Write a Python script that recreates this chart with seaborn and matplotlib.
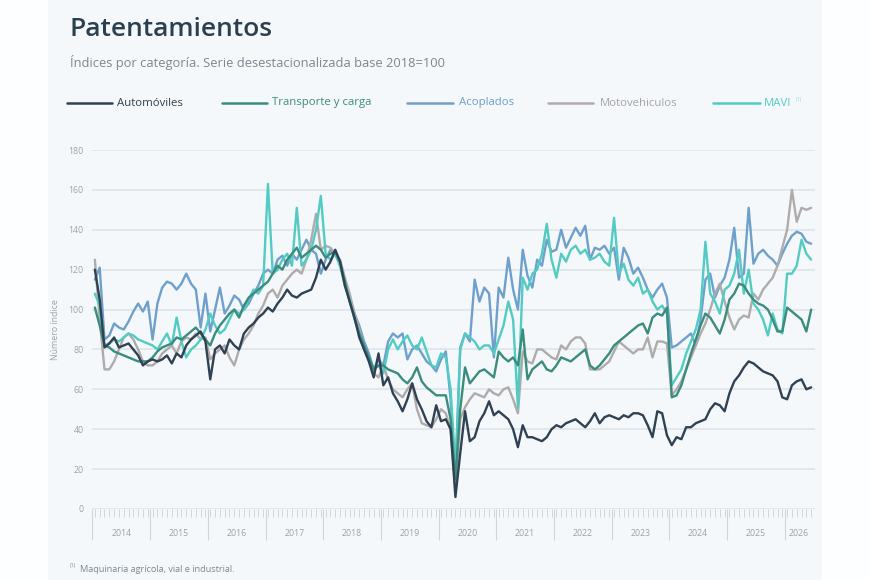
import numpy as np
import pandas as pd
import matplotlib
matplotlib.use("Agg")
import matplotlib.pyplot as plt
import seaborn as sns
from matplotlib.lines import Line2D
from matplotlib.patches import Rectangle

# ---------------- data (monthly index, 2014-01 .. 2026-06) ----------------
years = ["2014", "2015", "2016", "2017", "2018", "2019", "2020",
         "2021", "2022", "2023", "2024", "2025", "2026"]

automoviles = [
    120, 105, 81, 83, 86, 81, 82, 83, 80, 77, 72, 74,
    75, 74, 75, 77, 73, 78, 76, 82, 85, 87, 89, 84,
    65, 80, 82, 78, 85, 82, 80, 88, 91, 93, 96, 98,
    101, 99, 103, 106, 110, 107, 106, 108, 109, 110, 116, 125,
    120, 124, 130, 124, 112, 104, 96, 86, 80, 74, 66, 78,
    62, 66, 58, 54, 49, 55, 63, 55, 50, 44, 41, 52,
    44, 45, 40, 6, 28, 49, 34, 36, 44, 48, 54, 47,
    49, 47, 45, 40, 31, 42, 36, 36, 35, 34, 36, 40,
    42, 41, 43, 44, 45, 43, 41, 44, 48, 43, 46, 47,
    46, 45, 47, 46, 48, 48, 47, 42, 36, 49, 48, 37,
    32, 36, 35, 41, 41, 43, 44, 45, 50, 53, 52, 49,
    58, 64, 67, 71, 74, 73, 71, 69, 68, 67, 64, 56,
    55, 62, 64, 65, 60, 61,
]

transporte = [
    101, 92, 82, 81, 79, 78, 77, 76, 75, 74, 74, 74,
    76, 79, 81, 82, 83, 86, 85, 87, 89, 91, 88, 85,
    82, 88, 92, 95, 98, 100, 96, 102, 106, 108, 110, 112,
    114, 118, 122, 120, 125, 128, 131, 126, 128, 130, 132, 130,
    126, 128, 129, 124, 114, 104, 96, 88, 82, 76, 70, 72,
    72, 70, 69, 68, 65, 63, 66, 71, 64, 61, 59, 57,
    57, 57, 45, 15, 50, 71, 63, 66, 69, 70, 68, 66,
    79, 76, 74, 76, 72, 90, 65, 70, 72, 74, 70, 69,
    72, 76, 75, 74, 76, 78, 80, 72, 70, 72, 75, 78,
    82, 84, 86, 88, 90, 92, 93, 88, 96, 98, 97, 101,
    56, 57, 62, 70, 78, 85, 92, 98, 96, 92, 88, 95,
    105, 108, 113, 112, 108, 105, 103, 102, 100, 95, 89, 89,
    101, 99, 97, 95, 89, 100,
]

acoplados = [
    115, 121, 85, 87, 93, 91, 90, 94, 99, 103, 99, 104,
    85, 103, 111, 114, 113, 110, 113, 118, 113, 110, 91, 108,
    89, 100, 111, 98, 102, 107, 105, 100, 103, 108, 112, 118,
    120, 118, 125, 127, 122, 128, 125, 130, 135, 130, 128, 118,
    125, 130, 128, 122, 114, 106, 98, 92, 84, 78, 70, 75,
    72, 84, 88, 86, 88, 75, 80, 82, 78, 74, 72, 69,
    75, 79, 55, 15, 81, 88, 84, 115, 104, 111, 108, 76,
    111, 106, 126, 110, 100, 130, 117, 111, 125, 122, 135, 129,
    130, 140, 131, 136, 141, 137, 142, 125, 131, 130, 132, 128,
    131, 115, 131, 126, 118, 121, 116, 110, 106, 110, 113, 106,
    81, 82, 84, 86, 88, 82, 95, 115, 118, 106, 112, 116,
    125, 141, 116, 118, 151, 123, 128, 130, 127, 125, 122, 128,
    133, 137, 139, 138, 134, 133,
]

motovehiculos = [
    125, 95, 70, 70, 74, 80, 86, 88, 85, 80, 74, 72,
    72, 74, 78, 80, 82, 78, 84, 86, 85, 88, 85, 86,
    75, 78, 80, 82, 76, 72, 80, 85, 88, 92, 98, 102,
    108, 110, 106, 112, 115, 118, 120, 118, 125, 135, 148, 130,
    132, 131, 128, 125, 116, 108, 98, 90, 80, 74, 68, 66,
    72, 65, 60, 58, 56, 60, 63, 50, 43, 42, 41, 45,
    50, 48, 40, 10, 45, 51, 55, 58, 57, 56, 60, 58,
    57, 60, 61, 55, 48, 79, 74, 73, 80, 80, 78, 76,
    75, 82, 80, 84, 86, 86, 83, 70, 70, 70, 72, 74,
    79, 84, 82, 80, 78, 80, 80, 86, 76, 84, 84, 83,
    57, 60, 64, 70, 76, 82, 88, 93, 100, 108, 113, 104,
    96, 90, 95, 97, 96, 108, 105, 110, 113, 116, 122, 131,
    140, 160, 144, 151, 150, 151,
]

mavi = [
    108, 102, 82, 83, 85, 84, 86, 88, 87, 85, 84, 83,
    82, 80, 84, 88, 82, 96, 84, 76, 80, 82, 85, 90,
    98, 92, 88, 90, 95, 100, 98, 100, 105, 110, 108, 112,
    163, 118, 120, 125, 128, 122, 151, 122, 125, 130, 140, 157,
    128, 125, 128, 122, 112, 105, 95, 88, 80, 75, 70, 72,
    68, 80, 85, 80, 84, 87, 82, 80, 86, 79, 72, 71,
    78, 76, 60, 20, 80, 88, 86, 84, 80, 82, 82, 78,
    85, 92, 104, 95, 51, 116, 110, 118, 120, 128, 143, 125,
    116, 128, 124, 130, 132, 128, 130, 125, 126, 128, 124, 122,
    146, 118, 123, 115, 112, 116, 108, 110, 104, 100, 102, 98,
    62, 66, 70, 78, 84, 90, 100, 134, 108, 104, 98, 110,
    112, 118, 130, 108, 120, 103, 100, 95, 87, 98, 90, 88,
    118, 118, 122, 135, 128, 125,
]

series_names = ["Acoplados", "Motovehiculos", "MAVI", "Transporte y carga", "Automóviles"]
colors = {
    "Automóviles": "#2f4152",
    "Transporte y carga": "#3b8c7c",
    "Acoplados": "#6f9fcb",
    "Motovehiculos": "#b0abab",
    "MAVI": "#52cbc2",
}

n = len(automoviles)
df = pd.DataFrame({
    "idx": np.arange(n),
    "Automóviles": automoviles,
    "Transporte y carga": transporte,
    "Acoplados": acoplados,
    "Motovehiculos": motovehiculos,
    "MAVI": mavi,
})
long = df.melt(id_vars="idx", var_name="serie", value_name="valor")

# ---------------- figure ----------------
sns.set_theme(style="white")
plt.rcParams["font.family"] = ["Open Sans", "DejaVu Sans"]

W, H = 870, 580
fig = plt.figure(figsize=(W / 100, H / 100), dpi=100, facecolor="#fdfeff")
fig.patches.append(Rectangle((48 / W, 0), (822 - 48) / W, 1, transform=fig.transFigure,
                             facecolor="#f4f8fb", edgecolor="none", zorder=-10))

ax = fig.add_axes([92 / W, (H - 509) / H, (815 - 92) / W, (509 - 150) / H])
ax.set_facecolor("none")

sns.lineplot(data=long, x="idx", y="valor", hue="serie", hue_order=series_names,
             palette=colors, linewidth=1.7, legend=False, ax=ax, zorder=3)

ax.set_ylim(0, 180)
ax.set_xlim(-0.6, n - 0.2)
ax.set_yticks(np.arange(0, 181, 20))
ax.yaxis.grid(True, color="#dde2e7", linewidth=1.1)
ax.set_axisbelow(True)
for s in ax.spines.values():
    s.set_visible(False)
ax.tick_params(axis="y", length=0, labelsize=6.3, labelcolor="#9aa3aa", pad=6)
ax.set_ylabel("Número índice", fontsize=6.3, color="#9aa3aa", labelpad=6)
ax.set_xlabel("")

# x axis: year separators (major) and month marks (minor)
bounds = np.arange(-0.5, n, 12)
ax.set_xticks(bounds)
ax.set_xticklabels([])
ax.set_xticks(np.arange(n), minor=True)
ax.tick_params(axis="x", which="major", length=22, width=0.8, color="#cfd5da", pad=2)
ax.tick_params(axis="x", which="minor", length=6, width=0.7, color="#cfd5da")
ax.xaxis.set_ticks_position("bottom")
for i, y in enumerate(years):
    start = i * 12
    end = min(start + 11, n - 1)
    ax.text((start + end) / 2, -0.068, y, transform=ax.get_xaxis_transform(),
            ha="center", va="center", fontsize=6.3, color="#9aa3aa")

# ---------------- titles ----------------
fig.text(69 / W, 1 - 30 / H, "Patentamientos", fontsize=19, fontweight="semibold",
         color="#2b3f4e", ha="left", va="center")
fig.text(70 / W, 1 - 62 / H, "Índices por categoría. Serie desestacionalizada base 2018=100",
         fontsize=9.3, color="#7d878f", ha="left", va="center")

# ---------------- legend ----------------
legend_items = [
    ("Automóviles", 67, 112, 117),
    ("Transporte y carga", 222, 267, 272),
    ("Acoplados", 407, 453, 459),
    ("Motovehiculos", 548, 593, 600),
    ("MAVI", 713, 760, 764),
]
ly = 1 - 103 / H
text_colors = {
    "Automóviles": "#2f4152",
    "Transporte y carga": "#3b8c7c",
    "Acoplados": "#6f9fcb",
    "Motovehiculos": "#a8a3a3",
    "MAVI": "#52cbc2",
}
for name, x0, x1, xt in legend_items:
    fig.add_artist(Line2D([x0 / W, x1 / W], [ly, ly], color=colors[name], linewidth=1.8,
                          transform=fig.transFigure))
    fig.text(xt / W, ly, name, fontsize=8.2, color=text_colors[name], ha="left", va="center")
fig.text(796 / W, ly + 3 / H, "(1)", fontsize=3.8, color="#8fdcd6", ha="left", va="center")

# ---------------- footnote ----------------
fig.text(70 / W, 1 - 566 / H, "(1)", fontsize=3.8, color="#7d878f", ha="left", va="center")
fig.text(80 / W, 1 - 569 / H, "Maquinaria agrícola, vial e industrial.", fontsize=6.6,
         color="#7d878f", ha="left", va="center")

fig.savefig("out.png", dpi=100, facecolor=fig.get_facecolor())
